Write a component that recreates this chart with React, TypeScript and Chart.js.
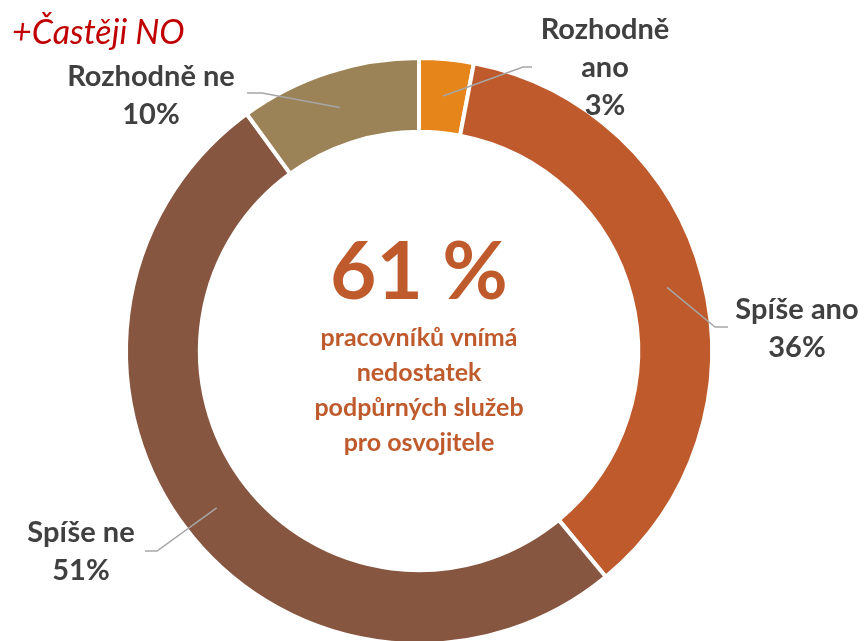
import React, { useEffect, useRef } from "react";
import { Chart, registerables } from "chart.js";

Chart.register(...registerables);

// ---------- data ----------
const categories = ["Rozhodně ano", "Spíše ano", "Spíše ne", "Rozhodně ne"];
const labelLines = [["Rozhodně", "ano"], ["Spíše ano"], ["Spíše ne"], ["Rozhodně ne"]];
const values = [3, 36, 51, 10];
const colors = ["#E6851A", "#BF5A2C", "#875641", "#9C8257"];
const headline = "61 %";
const subtitleLines = ["pracovníků vnímá", "nedostatek", "podpůrných služeb", "pro osvojitele"];
const title = "+Častěji NO";

// ---------- layout (relative to doughnut centre) ----------
const labelLayout = [
  { elbow: [104, -284], end: [113, -284], tx: 186, ty: -321 },
  { elbow: [296, -24], end: [309, -24], tx: 378, ty: -41 },
  { elbow: [-262, 200], end: [-274, 200], tx: -338, ty: 182 },
  { elbow: [-157, -258], end: [-172, -258], tx: -268, ty: -274 },
];

const LABEL_FONT = "bold 29px Lato";
const LABEL_COLOR = "#404040";
const ACCENT = "#BF5A2C";

const overlay = {
  id: "overlay",
  afterDatasetsDraw(chart: any) {
    const ctx = chart.ctx as CanvasRenderingContext2D;
    const meta = chart.getDatasetMeta(0);
    const first = meta.data[0];
    const cx = first.x;
    const cy = first.y;
    ctx.save();
    meta.data.forEach((arc: any, i: number) => {
      const p = arc.getProps(["startAngle", "endAngle", "innerRadius", "outerRadius"], true);
      const mid = (p.startAngle + p.endAngle) / 2;
      const r = (p.innerRadius + p.outerRadius) / 2;
      const ax = cx + Math.cos(mid) * r;
      const ay = cy + Math.sin(mid) * r;
      const L = labelLayout[i];
      ctx.beginPath();
      ctx.strokeStyle = "#A6A6A6";
      ctx.lineWidth = 1.5;
      ctx.moveTo(ax, ay);
      ctx.lineTo(cx + L.elbow[0], cy + L.elbow[1]);
      ctx.lineTo(cx + L.end[0], cy + L.end[1]);
      ctx.stroke();
      ctx.fillStyle = LABEL_COLOR;
      ctx.font = LABEL_FONT;
      ctx.textAlign = "center";
      ctx.textBaseline = "middle";
      const lines = [...labelLines[i], values[i] + "%"];
      lines.forEach((t, k) => ctx.fillText(t, cx + L.tx, cy + L.ty + k * 38));
    });

    // centre text
    ctx.fillStyle = ACCENT;
    ctx.textAlign = "center";
    ctx.textBaseline = "alphabetic";
    ctx.font = "bold 80px Lato";
    ctx.fillText(headline, cx, cy - 52);
    ctx.font = "bold 25px Lato";
    ctx.textBaseline = "middle";
    subtitleLines.forEach((t, k) => ctx.fillText(t, cx, cy - 13 + k * 35));

    // title
    ctx.fillStyle = "#C00000";
    ctx.font = "italic 34px Lato";
    ctx.textAlign = "left";
    ctx.textBaseline = "alphabetic";
    ctx.fillText(title, 12, 44);
    ctx.restore();
  },
};

export default function App() {
  const ref = useRef<HTMLCanvasElement | null>(null);
  useEffect(() => {
    if (!ref.current) return;
    const chart = new Chart(ref.current, {
      type: "doughnut",
      data: {
        labels: categories,
        datasets: [
          {
            data: values,
            backgroundColor: colors,
            borderColor: "#ffffff",
            borderWidth: 4,
            hoverOffset: 0,
          },
        ],
      },
      options: {
        responsive: false,
        animation: false,
        devicePixelRatio: 1,
        radius: 293,
        cutout: "74.8%",
        layout: { padding: { left: 128, right: 156, top: 60, bottom: 18 } },
        plugins: { legend: { display: false }, tooltip: { enabled: false }, title: { display: false } },
        events: [],
      } as any,
      plugins: [overlay],
    });
    return () => chart.destroy();
  }, []);
  return (
    <div style={{ position: "fixed", left: 0, top: 0, width: 866, height: 641, overflow: "hidden", background: "#fff" }}>
      <canvas ref={ref} width={866} height={660} style={{ display: "block" }} />
    </div>
  );
}
